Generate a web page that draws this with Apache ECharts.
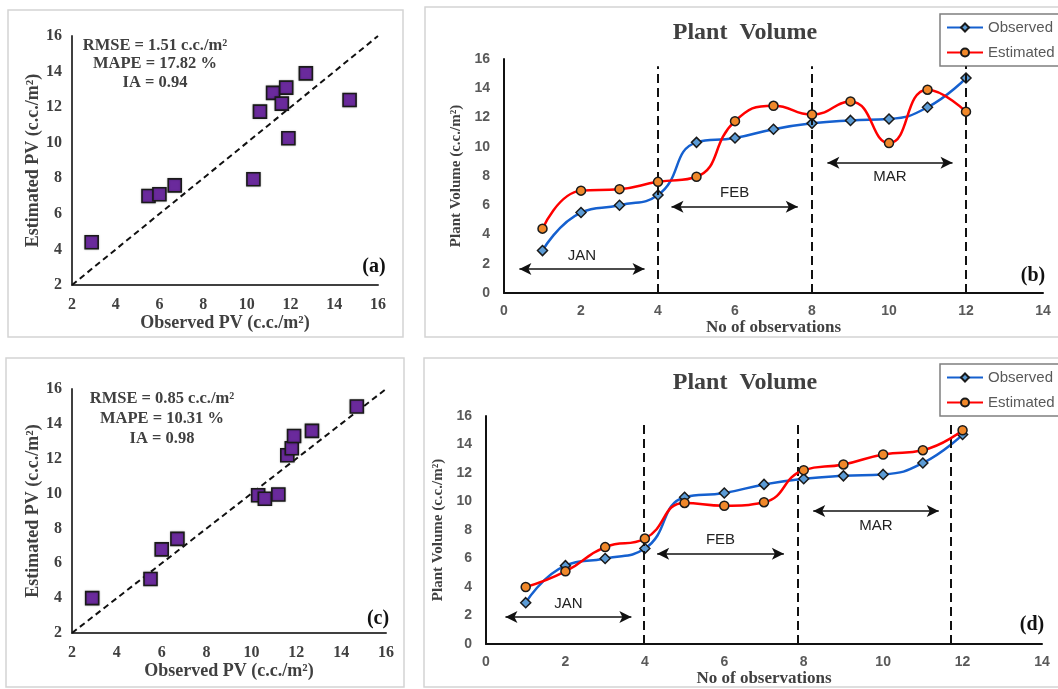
<!DOCTYPE html>
<html>
<head>
<meta charset="utf-8">
<script src="https://cdn.jsdelivr.net/npm/echarts@6/dist/echarts.min.js"></script>
<style>html,body{margin:0;padding:0;background:#fff}#c{width:1058px;height:689px}</style>
</head>
<body>
<div id="c"></div>
<script>
// ---- data ----
const obsIdx = [1, 2, 3, 4, 5, 6, 7, 8, 9, 10, 11, 12];
const observedPV = [2.9, 5.5, 6.0, 6.7, 10.3, 10.6, 11.2, 11.6, 11.8, 11.9, 12.7, 14.7];
const estimatedB = [4.4, 7.0, 7.1, 7.6, 7.95, 11.75, 12.8, 12.2, 13.1, 10.25, 13.9, 12.4];
const estimatedD = [4.0, 5.1, 6.8, 7.4, 9.9, 9.7, 9.95, 12.2, 12.6, 13.3, 13.6, 15.0];
const oneToOne = [2, 16];
const statsA = ['RMSE = 1.51 c.c./m²', 'MAPE = 17.82 %', 'IA = 0.94'];
const statsC = ['RMSE = 0.85 c.c./m²', 'MAPE = 10.31 %', 'IA = 0.98'];
const months = ['JAN', 'FEB', 'MAR'];
const monthSpanB = [[0.4, 3.65, 1.64], [4.35, 7.63, 5.9], [8.4, 11.65, 8.9]];
const monthSpanD = [[0.49, 3.66, 1.89], [4.31, 7.5, 6.33], [8.24, 11.4, 9.34]];
const dividersB = [4, 8, 12];
const dividersD = [3.98, 7.85, 11.7];
const dividerTopB = 15.5, dividerTopD = 15.7;

const SERIF = '"Liberation Serif", "Times New Roman", serif';
const SANS = '"Liberation Sans", Arial, sans-serif';

const chart = echarts.init(document.getElementById('c'), null, {renderer: 'canvas'});

function scatterAxis(gridIndex, name, isY, gap) {
  return {
    type: 'value', gridIndex, min: 2, max: 16, interval: 2,
    name, nameLocation: 'middle', nameGap: gap,
    nameTextStyle: {fontFamily: SERIF, fontWeight: 'bold', fontSize: 18, color: '#404040'},
    axisLine: {show: true, onZero: false, lineStyle: {color: '#404040', width: 2}},
    axisTick: {show: false}, splitLine: {show: false},
    axisLabel: {fontFamily: SERIF, fontWeight: 'bold', fontSize: 16, color: '#404040', margin: isY ? 10 : 12}
  };
}
function lineXAxis(gridIndex) {
  return {
    type: 'value', gridIndex, min: 0, max: 14, interval: 2,
    name: 'No of observations', nameLocation: 'middle', nameGap: 25,
    nameTextStyle: {fontFamily: SERIF, fontWeight: 'bold', fontSize: 17, color: '#404040'},
    axisLine: {show: true, onZero: false, lineStyle: {color: '#111', width: 2}},
    axisTick: {show: false}, splitLine: {show: false},
    axisLabel: {fontFamily: SANS, fontWeight: 'bold', fontSize: 14, color: '#595959', margin: 11}
  };
}
function lineYAxis(gridIndex, gap) {
  return {
    type: 'value', gridIndex, min: 0, max: 16, interval: 2,
    name: 'Plant Volume (c.c./m²)', nameLocation: 'middle', nameGap: gap,
    nameTextStyle: {fontFamily: SERIF, fontWeight: 'bold', fontSize: 15, color: '#404040'},
    axisLine: {show: true, onZero: false, lineStyle: {color: '#111', width: 2}},
    axisTick: {show: false}, splitLine: {show: false},
    axisLabel: {fontFamily: SANS, fontWeight: 'bold', fontSize: 14, color: '#595959', margin: 14}
  };
}

function scatterSeries(idx, est) {
  return [{
    type: 'line', xAxisIndex: idx, yAxisIndex: idx, silent: true,
    data: [[oneToOne[0], oneToOne[0]], [oneToOne[1], oneToOne[1]]],
    symbol: 'none', lineStyle: {color: '#111', width: 2, type: [6, 4]}, z: 2
  }, {
    type: 'scatter', xAxisIndex: idx, yAxisIndex: idx,
    data: observedPV.map((v, i) => [v, est[i]]),
    symbol: 'rect', symbolSize: 13,
    itemStyle: {color: '#6a2a9c', borderColor: '#1a1a1a', borderWidth: 1.6, opacity: 1,
      shadowColor: 'rgba(0,0,0,0.25)', shadowBlur: 2}, z: 3
  }];
}

function monthMarks(spans) {
  return spans.map((s, i) => [
    {coord: [s[0], s[2]],
     label: {show: true, formatter: months[i], position: i === 2 ? 'insideMiddleBottom' : 'insideMiddleTop',
       distance: i === 2 ? 7 : 6, fontFamily: SANS, fontSize: 15, color: '#222'}},
    {coord: [s[1], s[2]]}
  ]);
}
function dividerMarks(xs, top) {
  return xs.map(x => [{coord: [x, 0]}, {coord: [x, top]}]);
}

function lineSeries(idx, est, divs, top, spans) {
  return [{
    name: 'Observed', type: 'line', xAxisIndex: idx, yAxisIndex: idx,
    data: obsIdx.map((x, i) => [x, observedPV[i]]),
    smooth: 0.5, symbol: 'diamond', symbolSize: 10,
    lineStyle: {color: '#1560cf', width: 2.5},
    itemStyle: {color: '#5b9bd5', borderColor: '#1a1a1a', borderWidth: 1.5},
    markLine: {silent: true, symbol: ['none', 'none'], animation: false,
      lineStyle: {color: '#111', width: 2, type: [9, 5]}, label: {show: false},
      data: dividerMarks(divs, top)}, z: 4
  }, {
    name: 'Estimated', type: 'line', xAxisIndex: idx, yAxisIndex: idx,
    data: obsIdx.map((x, i) => [x, est[i]]),
    smooth: 0.5, symbol: 'circle', symbolSize: 9,
    lineStyle: {color: '#ff0000', width: 2.5},
    itemStyle: {color: '#f0882a', borderColor: '#1a1a1a', borderWidth: 1.5},
    markLine: {silent: true, symbol: ['arrow', 'arrow'], symbolSize: [9, 12], animation: false,
      lineStyle: {color: '#111', width: 1.6, type: 'solid'},
      data: monthMarks(spans)}, z: 5
  }];
}

function legendAt(top) {
  return {
    left: 940, top, orient: 'vertical', data: ['Observed', 'Estimated'],
    itemWidth: 36, itemHeight: 10, itemGap: 10, padding: [6, 8, 6, 6],
    borderColor: '#7f7f7f', borderWidth: 1.5, backgroundColor: '#fff',
    textStyle: {fontFamily: SANS, fontSize: 15, color: '#595959'}
  };
}

function txt(x, y, text, size, color, font, weight) {
  return {type: 'text', x, y, silent: true,
    style: {text, fontFamily: font || SERIF, fontWeight: weight || 'bold', fontSize: size,
      fill: color || '#404040', textAlign: 'center', textVerticalAlign: 'middle'}};
}
function box(x, y, w, h) {
  return {type: 'rect', silent: true, z: -1,
    shape: {x, y, width: w, height: h},
    style: {fill: 'none', stroke: '#d4d4d4', lineWidth: 1.5}};
}

const option = {
  animation: false,
  backgroundColor: '#fff',
  grid: [
    {left: 72, right: 680, top: 36, bottom: 404},
    {left: 504, right: 15, top: 59, bottom: 396},
    {left: 72, right: 672, top: 389, bottom: 56},
    {left: 486, right: 16, top: 416, bottom: 45}
  ],
  xAxis: [
    scatterAxis(0, 'Observed PV (c.c./m²)', false, 26),
    lineXAxis(1),
    scatterAxis(2, 'Observed PV (c.c./m²)', false, 28),
    lineXAxis(3)
  ],
  yAxis: [
    scatterAxis(0, 'Estimated PV (c.c./m²)', true, 30),
    lineYAxis(1, 37),
    scatterAxis(2, 'Estimated PV (c.c./m²)', true, 30),
    lineYAxis(3, 35)
  ],
  legend: [legendAt(14), legendAt(364)],
  series: [
    ...scatterSeries(0, estimatedB),
    ...lineSeries(1, estimatedB, dividersB, dividerTopB, monthSpanB),
    ...scatterSeries(2, estimatedD),
    ...lineSeries(3, estimatedD, dividersD, dividerTopD, monthSpanD)
  ],
  graphic: [
    box(8, 10, 395, 327),
    box(425, 7, 640, 330),
    box(6, 358, 398, 329),
    box(424, 358, 640, 329),
    txt(155, 46, statsA[0], 16.5), txt(155, 64, statsA[1], 16.5), txt(155, 83, statsA[2], 16.5),
    txt(162, 399, statsC[0], 16.5), txt(162, 419, statsC[1], 16.5), txt(162, 439, statsC[2], 16.5),
    txt(374, 267, '(a)', 20, '#111'),
    txt(378, 619, '(c)', 20, '#111'),
    txt(1033, 276, '(b)', 20, '#111'),
    txt(1032, 625, '(d)', 20, '#111'),
    txt(745, 33, 'Plant  Volume', 24, '#404040'),
    txt(745, 383, 'Plant  Volume', 24, '#404040')
  ]
};
chart.setOption(option);
</script>
</body>
</html>
